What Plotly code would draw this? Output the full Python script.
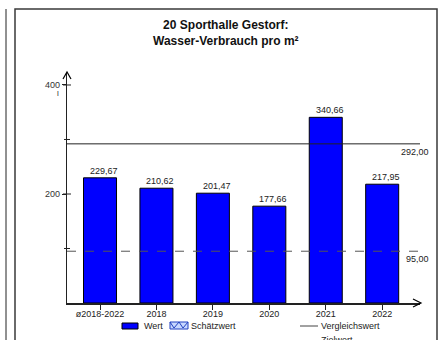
import plotly.graph_objects as go

# ---- data ----
categories = ["ø2018-2022", "2018", "2019", "2020", "2021", "2022"]
values = [229.67, 210.62, 201.47, 177.66, 340.66, 217.95]
vergleichswert = 292.00
zielwert = 95.00
y_major_ticks = [200, 400]
y_minor_ticks = [100, 300]
title_lines = ["20 Sporthalle Gestorf:", "Wasser-Verbrauch pro m²"]
unit_label = "l"
legend_labels = ["Wert", "Schätzwert", "Vergleichswert", "Zielwert"]

W, H = 446, 340
L, R, T, B = 67, 420, 73, 303  # plot area in pixels


def px(x):
    return (x - L) / (R - L)


def py(y):
    return (B - y) / (B - T)


def de(v):
    return f"{v:.2f}".replace(".", ",")


FONT = "Arial, Liberation Sans, sans-serif"

fig = go.Figure()
fig.add_trace(go.Bar(
    x=list(range(len(categories))), y=values,
    width=0.585,
    marker=dict(color="#0000FF", line=dict(color="#000000", width=1)),
    showlegend=False, hoverinfo="skip",
))

shapes = []
annotations = []

# frames
shapes.append(dict(type="rect", xref="paper", yref="paper",
                   x0=px(15), x1=px(437), y0=py(9), y1=py(350),
                   line=dict(color="#3a3a3a", width=1.5)))
shapes.append(dict(type="line", xref="paper", yref="paper",
                   x0=px(6), x1=px(6), y0=py(9), y1=py(350),
                   line=dict(color="#222", width=1)))

# reference lines
shapes.append(dict(type="line", xref="paper", yref="y", x0=0, x1=1,
                   y0=vergleichswert, y1=vergleichswert,
                   line=dict(color="#222", width=1)))
shapes.append(dict(type="line", xref="paper", yref="y", x0=0, x1=1,
                   y0=zielwert, y1=zielwert,
                   line=dict(color="#555", width=1, dash="dash")))
annotations.append(dict(xref="paper", yref="y", x=px(431), y=vergleichswert,
                        text=de(vergleichswert), showarrow=False, xanchor="right",
                        yanchor="top", yshift=-1, font=dict(size=9, color="#222", family=FONT)))
annotations.append(dict(xref="paper", yref="y", x=px(431), y=zielwert,
                        text=de(zielwert), showarrow=False, xanchor="right",
                        yanchor="top", yshift=-1, font=dict(size=9, color="#222", family=FONT)))

# y-axis crossing ticks
for t in y_major_ticks:
    shapes.append(dict(type="line", xref="paper", yref="y", x0=px(63), x1=px(71),
                       y0=t, y1=t, line=dict(color="#222", width=1)))
for t in y_minor_ticks:
    shapes.append(dict(type="line", xref="paper", yref="y", x0=px(64), x1=px(70),
                       y0=t, y1=t, line=dict(color="#222", width=1)))

# axis arrows (open chevrons)
shapes.append(dict(type="path", xref="paper", yref="paper",
                   path=f"M {px(63)} {py(79)} L {px(67)} {py(72)} L {px(71)} {py(79)}",
                   line=dict(color="#000", width=1.2)))
shapes.append(dict(type="path", xref="paper", yref="paper",
                   path=f"M {px(413)} {py(299)} L {px(421)} {py(303)} L {px(413)} {py(307)}",
                   line=dict(color="#000", width=1.2)))

# value labels
for i, v in enumerate(values):
    annotations.append(dict(x=i, y=v, xref="x", yref="y", text=de(v), showarrow=False,
                            xanchor="center", yanchor="bottom", xshift=4, yshift=0,
                            font=dict(size=9, color="#222", family=FONT)))

# title
annotations.append(dict(xref="paper", yref="paper", x=px(226), y=py(16),
                        text="<b>" + "<br>".join(title_lines) + "</b>",
                        showarrow=False, xanchor="center", yanchor="top",
                        font=dict(size=12, color="#111", family=FONT)))

# unit label
annotations.append(dict(xref="paper", yref="paper", x=px(58), y=py(93),
                        text=unit_label, showarrow=False, xanchor="center", yanchor="middle",
                        font=dict(size=8, color="#333", family=FONT)))

# legend
ly = 326
shapes.append(dict(type="rect", xref="paper", yref="paper",
                   x0=px(122), x1=px(138), y0=py(323), y1=py(329),
                   fillcolor="#0000FF", line=dict(color="#000", width=1)))
annotations.append(dict(xref="paper", yref="paper", x=px(142), y=py(ly), text=legend_labels[0],
                        showarrow=False, xanchor="left", yanchor="middle",
                        font=dict(size=9, color="#222", family=FONT)))
shapes.append(dict(type="rect", xref="paper", yref="paper",
                   x0=px(170), x1=px(188), y0=py(322), y1=py(329),
                   fillcolor="#c8d8ff", line=dict(color="#2040c0", width=1)))
shapes.append(dict(type="path", xref="paper", yref="paper",
                   path=(f"M {px(170)} {py(322)} L {px(174)} {py(328)} L {px(179)} {py(322)} "
                         f"L {px(183)} {py(328)} L {px(188)} {py(322)}"),
                   line=dict(color="#2040c0", width=1)))
annotations.append(dict(xref="paper", yref="paper", x=px(189), y=py(ly), text=legend_labels[1],
                        showarrow=False, xanchor="left", yanchor="middle",
                        font=dict(size=9, color="#222", family=FONT)))
shapes.append(dict(type="line", xref="paper", yref="paper",
                   x0=px(300), x1=px(318), y0=py(ly), y1=py(ly),
                   line=dict(color="#444", width=1)))
annotations.append(dict(xref="paper", yref="paper", x=px(319), y=py(ly), text=legend_labels[2],
                        showarrow=False, xanchor="left", yanchor="middle",
                        font=dict(size=9, color="#222", family=FONT)))
annotations.append(dict(xref="paper", yref="paper", x=px(319), y=py(340), text=legend_labels[3],
                        showarrow=False, xanchor="left", yanchor="middle",
                        font=dict(size=9, color="#222", family=FONT)))

fig.update_layout(
    width=W, height=H,
    margin=dict(l=L, r=W - R, t=T, b=H - B, pad=0),
    paper_bgcolor="white", plot_bgcolor="white",
    bargap=0.4,
    font=dict(family=FONT, size=9, color="#222"),
    xaxis=dict(
        range=[-0.585, 5.67], tickmode="array",
        tickvals=list(range(len(categories))), ticktext=categories,
        showline=True, linecolor="#222", linewidth=1.5,
        ticks="outside", ticklen=5, tickcolor="#222",
        ticklabelstandoff=-4,
        showgrid=False, zeroline=False, fixedrange=True,
        tickfont=dict(size=9, color="#222", family=FONT),
    ),
    yaxis=dict(
        range=[0, 422], tickmode="array", tickvals=y_major_ticks,
        ticktext=[str(t) for t in y_major_ticks],
        showline=True, linecolor="#222", linewidth=1.2,
        ticks="outside", ticklen=4, tickcolor="#222",
        showgrid=False, zeroline=False, fixedrange=True,
        tickfont=dict(size=9, color="#333", family=FONT),
    ),
    shapes=shapes, annotations=annotations,
    showlegend=False,
)

fig.write_html(
    "out.html",
    config={"displayModeBar": False},
    post_script=["document.body.style.margin='0';document.body.style.overflow='hidden';"],
)
